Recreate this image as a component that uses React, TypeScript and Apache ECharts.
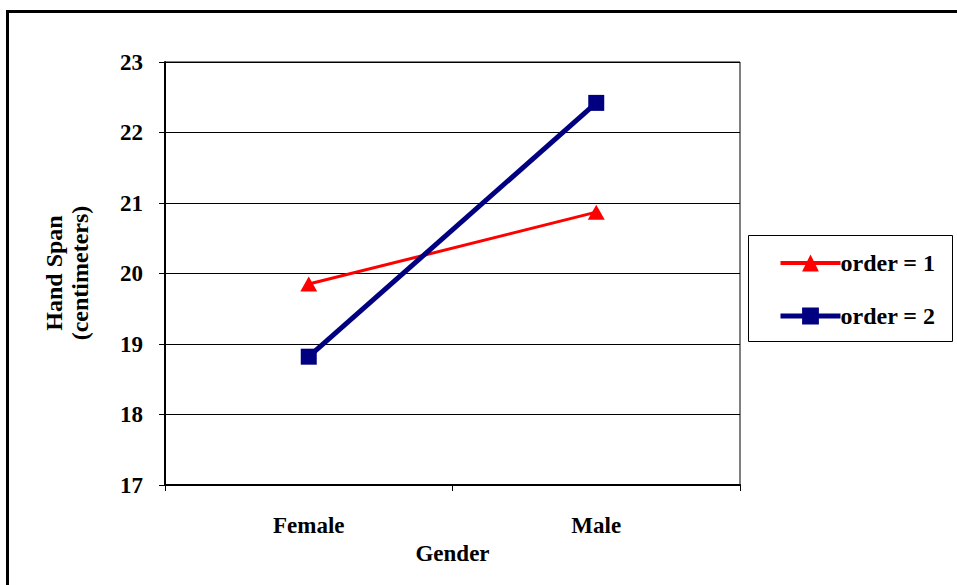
import React, { useEffect, useRef } from "react";
import * as echarts from "echarts";

const categories = ["Female", "Male"];
const order1 = [19.85, 20.87];
const order2 = [18.82, 22.42];
const yTicks = { min: 17, max: 23, interval: 1 };
const seriesNames = ["order = 1", "order = 2"];

const FONT = "Times New Roman, Liberation Serif, DejaVu Serif, serif";

export default function App() {
  const ref = useRef<HTMLDivElement>(null);
  useEffect(() => {
    if (!ref.current) return;
    const chart = echarts.init(ref.current, null, { renderer: "svg" });
    const txt = { fontFamily: FONT, fontWeight: "bold" as const, fontSize: 23, color: "#000" };
    chart.setOption({
      animation: false,
      backgroundColor: "#ffffff",
      textStyle: { fontFamily: FONT, fontWeight: "bold", color: "#000" },
      grid: {
        left: 165,
        right: 217,
        top: 62,
        bottom: 100,
        show: true,
        borderColor: "#000",
        borderWidth: 1,
        backgroundColor: "transparent",
      },
      legend: {
        orient: "vertical",
        left: 773,
        top: 246,
        itemWidth: 60,
        itemHeight: 21,
        itemGap: 29,
        data: [
          { name: seriesNames[0], lineStyle: { width: 4 } },
          { name: seriesNames[1], lineStyle: { width: 5 } },
        ],
        textStyle: { ...txt, fontSize: 24, padding: [0, 0, 0, -5] },
      },
      xAxis: {
        type: "category",
        data: categories,
        boundaryGap: true,
        name: "Gender",
        nameLocation: "middle",
        nameGap: 56,
        nameTextStyle: { ...txt, verticalAlign: "top" },
        axisLine: { lineStyle: { color: "#000", width: 2 } },
        axisTick: { show: true, length: 6, alignWithLabel: false, lineStyle: { color: "#000", width: 1 } },
        axisLabel: { ...txt, margin: 29 },
        splitLine: { show: false },
      },
      yAxis: {
        type: "value",
        min: yTicks.min,
        max: yTicks.max,
        interval: yTicks.interval,
        axisLine: { show: true, lineStyle: { color: "#000", width: 2 } },
        axisTick: { show: true, length: 6, lineStyle: { color: "#000", width: 1 } },
        axisLabel: { ...txt, margin: 22 },
        splitLine: { show: true, lineStyle: { color: "#000", width: 1 } },
      },
      series: [
        {
          name: seriesNames[0],
          type: "line",
          data: order1,
          symbol: "triangle",
          symbolSize: [17, 15],
          itemStyle: { color: "#ff0000" },
          lineStyle: { color: "#ff0000", width: 3 },
        },
        {
          name: seriesNames[1],
          type: "line",
          data: order2,
          symbol: "rect",
          symbolSize: 16,
          itemStyle: { color: "#000080" },
          lineStyle: { color: "#000080", width: 5 },
        },
      ],
      graphic: [
        {
          type: "rect",
          shape: { x: 7.5, y: 11.5, width: 1000, height: 700 },
          style: { fill: "none", stroke: "#000", lineWidth: 3 },
          silent: true,
        },
        {
          type: "rect",
          shape: { x: 748.5, y: 235.5, width: 204, height: 106 },
          style: { fill: "none", stroke: "#000", lineWidth: 1 },
          silent: true,
        },
        {
          type: "text",
          x: 67,
          y: 273,
          rotation: Math.PI / 2,
          style: {
            text: "Hand Span\n(centimeters)",
            fontFamily: FONT,
            fontWeight: "bold",
            fontSize: 24,
            lineHeight: 26,
            fill: "#000",
            align: "center",
            verticalAlign: "middle",
          },
        },
      ],
    });
    return () => chart.dispose();
  }, []);
  return (
    <div
      ref={ref}
      style={{ position: "absolute", left: 0, top: 0, width: 957, height: 585 }}
    />
  );
}
